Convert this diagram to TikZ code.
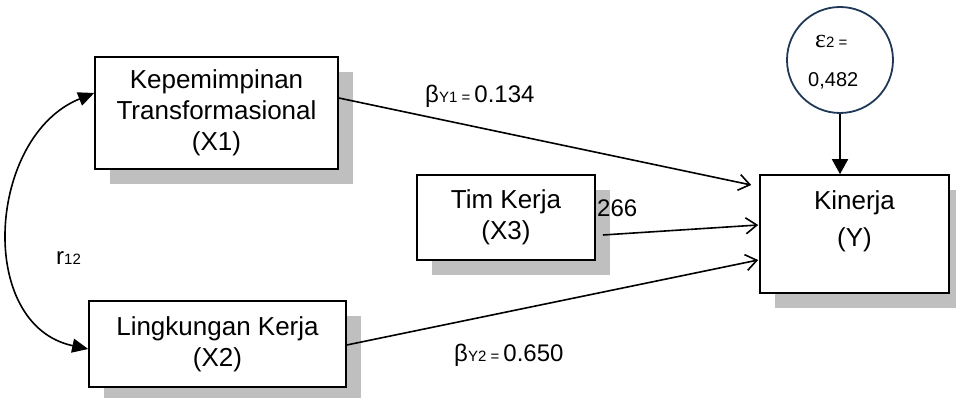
\documentclass[tikz,border=0pt]{standalone}
\usepackage{fontspec}
\setmainfont{Liberation Sans}
\newfontfamily\greekserif{Liberation Serif}
\usetikzlibrary{arrows.meta,shadows}
\definecolor{navy}{RGB}{31,56,88}
\def\bigfont{\fontsize{26}{31}\selectfont}
\def\labfont{\fontsize{24}{28}\selectfont}
\def\subfont{\fontsize{15}{18}\selectfont}

\begin{document}
\begin{tikzpicture}[x=1pt,y=1pt,
  var/.style={draw, line width=1.6pt, fill=white, align=center, font=\bigfont,
    inner sep=0pt,
    drop shadow={shadow xshift=15pt, shadow yshift=-15pt, fill=black!25, opacity=1}},
  path/.style={line width=1.6pt, -{Straight Barb[length=11pt,width=16pt,line width=1.6pt]}},
  coef/.style={anchor=base west, inner sep=0pt, font=\labfont}]
\useasboundingbox (0,0) rectangle (956,398);
\coordinate (p1) at (216.5,285);
\coordinate (p2) at (217.5,54);
\coordinate (p3) at (506,180.5);
\coordinate (p4) at (854.5,164);
\coordinate (p5) at (840,338);
\node[var, minimum width=243pt, minimum height=112pt] (x1) at (p1) {Kepemimpinan\\Transformasional\\(X1)};
\node[var, minimum width=257pt, minimum height=86pt] (x2) at (p2) {Lingkungan Kerja\\(X2)};
\node[var, minimum width=178pt, minimum height=85pt] (x3) at (p3) {Tim Kerja\\(X3)};
\node[var, minimum width=189pt, minimum height=118pt] (y) at (p4) {};
\node[align=center, font=\fontsize{26}{37}\selectfont] (ytxt) at ([yshift=13pt]y.center) {Kinerja\\(Y)};
\node[draw=navy, line width=1.8pt, circle, minimum size=106pt, inner sep=0pt] (e2) at (p5) {};
\draw[line width=1.6pt, -{Triangle[length=15pt,width=16pt]}] (e2.south) -- (e2.south |- y.north);
\draw[line width=1.6pt, {Triangle[length=16pt,width=14pt]}-{Triangle[length=16pt,width=14pt]}]
  ([yshift=20pt]x1.west) to[out=202,in=168,looseness=1.15] ([yshift=-5pt]x2.west);
\draw[path] ([yshift=15pt]x1.east) -- ([xshift=-8pt,yshift=49pt]y.west);
\draw[path] ([xshift=7pt,yshift=-17.5pt]x3.east) -- ([xshift=-1pt,yshift=9pt]y.west);
\draw[path] ([yshift=-1pt]x2.east) -- ([xshift=-1pt,yshift=-26pt]y.west);
\node[coef] (b1) at (425,295) {β{\subfont Y1 = }0.134};
\node[coef] (b3) at (597,181) {266};
\node[coef] (b2) at (454,36) {β{\subfont Y2 = }0.650};
\node[coef] (r) at (56,133) {r{\subfont 12}};
\node[anchor=base west, inner sep=0pt] (eps) at (815,350) {{\greekserif\fontsize{26}{28}\selectfont ε}{\fontsize{15}{16}\selectfont 2 =}};
\node[anchor=base west, inner sep=0pt, font=\fontsize{20}{24}\selectfont] (eval) at (808,311) {0,482};
\end{tikzpicture}
\end{document}
